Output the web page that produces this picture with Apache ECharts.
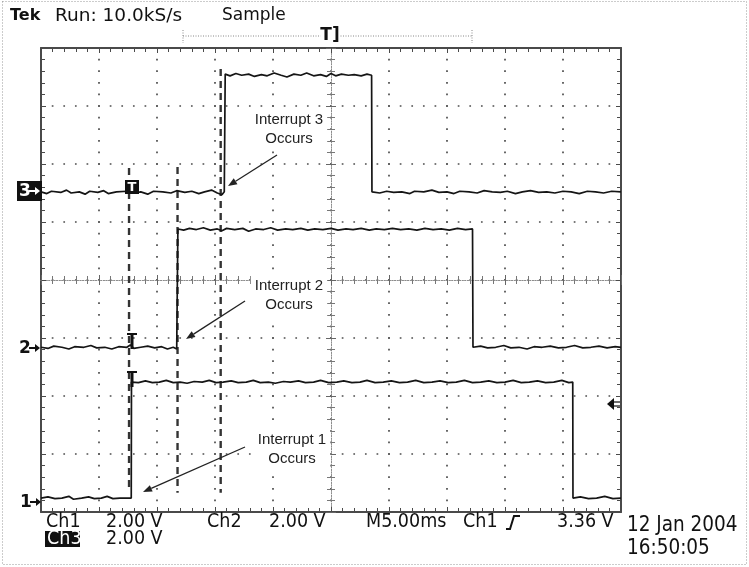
<!DOCTYPE html>
<html>
<head>
<meta charset="utf-8">
<script src="https://cdn.jsdelivr.net/npm/echarts@6/dist/echarts.min.js"></script>
<style>
html, body { margin: 0; padding: 0; background: #fff; }
#scope { width: 749px; height: 567px; }
</style>
</head>
<body>
<div id="scope"></div>
<script>
// x = time in ms relative to screen centre (5 ms/div, 10 div)
// y = screen level in divisions (8 div, 0 = centre)
var timeRange = [-25, 25];
var levelRange = [-4, 4];
var msPerDiv = 5;

var ch3Trace = [
  [-25, 1.52], [-24.5, 1.49], [-24.1, 1.53], [-23.3, 1.51], [-22.8, 1.55], [-22.4, 1.50],
  [-21.7, 1.52], [-21.2, 1.48], [-20.8, 1.53], [-20.1, 1.51], [-19.6, 1.54], [-19.2, 1.49],
  [-18.5, 1.52], [-17.6, 1.53], [-16.9, 1.50], [-16.4, 1.52], [-15.8, 1.48], [-15.3, 1.53],
  [-14.5, 1.52], [-13.8, 1.50], [-13.3, 1.54], [-12.6, 1.51], [-12.0, 1.53], [-11.4, 1.49],
  [-10.9, 1.52], [-10.3, 1.55], [-9.8, 1.50], [-9.4, 1.47], [-9.2, 1.52],
  [-9.16, 2.55], [-9.12, 3.55],
  [-8.7, 3.52], [-8.2, 3.56], [-7.7, 3.53], [-7.1, 3.55], [-6.6, 3.51], [-6.0, 3.54],
  [-5.5, 3.52], [-4.9, 3.57], [-4.3, 3.53], [-3.8, 3.50], [-3.2, 3.55], [-2.6, 3.53],
  [-2.1, 3.57], [-1.5, 3.52], [-0.9, 3.54], [-0.4, 3.51], [0.0, 3.56], [0.4, 3.52],
  [0.9, 3.55], [1.5, 3.53], [2.0, 3.54], [2.6, 3.52], [3.1, 3.55], [3.5, 3.53],
  [3.53, 1.52],
  [4.2, 1.50], [4.8, 1.53], [5.4, 1.51], [6.1, 1.52], [6.8, 1.49], [7.2, 1.53],
  [8.0, 1.52], [8.7, 1.55], [9.3, 1.51], [10.0, 1.52], [10.6, 1.49], [11.1, 1.53],
  [11.9, 1.52], [12.6, 1.50], [13.2, 1.54], [13.9, 1.52], [14.6, 1.51], [15.2, 1.53],
  [15.9, 1.49], [16.5, 1.52], [17.2, 1.54], [17.9, 1.51], [18.6, 1.52], [19.3, 1.50],
  [20.0, 1.53], [20.7, 1.52], [21.4, 1.49], [22.1, 1.53], [22.8, 1.52], [23.5, 1.50],
  [24.2, 1.53], [25, 1.52]
];

var ch2Trace = [
  [-25, -1.16], [-24.4, -1.18], [-23.9, -1.14], [-23.2, -1.16], [-22.6, -1.19], [-22.1, -1.15],
  [-21.3, -1.16], [-20.7, -1.13], [-20.2, -1.17], [-19.5, -1.16], [-18.9, -1.19], [-18.3, -1.15],
  [-17.6, -1.16], [-17.3, -1.12], [-17.0, -1.18], [-16.4, -1.16], [-15.8, -1.14], [-15.2, -1.17],
  [-14.6, -1.15], [-14.1, -1.19], [-13.6, -1.16], [-13.3, -1.19], [-13.22, -1.16],
  [-13.2, 0.88],
  [-12.7, 0.86], [-12.2, 0.89], [-11.6, 0.87], [-11.0, 0.90], [-10.4, 0.86], [-9.8, 0.88],
  [-9.4, 0.85], [-9.0, 0.89], [-8.3, 0.87], [-7.6, 0.89], [-7.1, 0.84], [-6.5, 0.88],
  [-5.8, 0.87], [-5.2, 0.90], [-4.6, 0.86], [-3.9, 0.88], [-3.3, 0.87], [-2.6, 0.89],
  [-2.0, 0.86], [-1.4, 0.88], [-0.7, 0.87], [0.0, 0.89], [0.6, 0.86], [1.3, 0.88],
  [1.9, 0.87], [2.6, 0.89], [3.3, 0.86], [3.9, 0.88], [4.6, 0.87], [5.3, 0.89],
  [6.0, 0.87], [6.7, 0.88], [7.4, 0.86], [8.1, 0.89], [8.8, 0.87], [9.5, 0.88],
  [10.2, 0.86], [10.9, 0.89], [11.6, 0.87], [12.2, 0.88],
  [12.24, -1.16],
  [12.9, -1.14], [13.5, -1.17], [14.2, -1.16], [14.9, -1.13], [15.5, -1.17], [16.2, -1.16],
  [16.9, -1.19], [17.5, -1.15], [18.2, -1.16], [18.9, -1.14], [19.6, -1.17], [20.3, -1.16],
  [21.0, -1.13], [21.7, -1.17], [22.4, -1.16], [23.1, -1.14], [23.8, -1.17], [24.5, -1.15],
  [25, -1.16]
];

var ch1Trace = [
  [-25, -3.76], [-24.4, -3.74], [-23.8, -3.77], [-23.2, -3.76], [-22.6, -3.73], [-22.2, -3.78],
  [-21.5, -3.76], [-20.9, -3.74], [-20.4, -3.77], [-19.8, -3.76], [-19.3, -3.73], [-18.8, -3.77],
  [-18.2, -3.76], [-17.6, -3.76], [-17.22, -3.76],
  [-17.2, -1.76],
  [-16.6, -1.77], [-16.0, -1.74], [-15.4, -1.77], [-14.8, -1.76], [-14.2, -1.73], [-13.6, -1.77],
  [-13.0, -1.76], [-12.4, -1.78], [-11.8, -1.75], [-11.1, -1.76], [-10.5, -1.73], [-9.9, -1.77],
  [-9.3, -1.76], [-8.6, -1.74], [-8.0, -1.77], [-7.3, -1.76], [-6.7, -1.73], [-6.1, -1.77],
  [-5.4, -1.76], [-4.8, -1.78], [-4.1, -1.75], [-3.5, -1.76], [-2.8, -1.74], [-2.2, -1.77],
  [-1.5, -1.76], [-0.9, -1.73], [-0.2, -1.77], [0.5, -1.76], [1.1, -1.74], [1.8, -1.77],
  [2.5, -1.76], [3.1, -1.73], [3.8, -1.77], [4.5, -1.76], [5.2, -1.74], [5.9, -1.77],
  [6.6, -1.76], [7.3, -1.73], [8.0, -1.77], [8.7, -1.76], [9.4, -1.74], [10.1, -1.77],
  [10.8, -1.76], [11.5, -1.73], [12.2, -1.77], [12.9, -1.76], [13.6, -1.74], [14.3, -1.77],
  [15.0, -1.76], [15.7, -1.73], [16.4, -1.77], [17.1, -1.76], [17.8, -1.74], [18.5, -1.77],
  [19.2, -1.76], [19.9, -1.73], [20.5, -1.77], [20.84, -1.76],
  [20.86, -3.76],
  [21.5, -3.74], [22.2, -3.77], [22.9, -3.76], [23.6, -3.73], [24.3, -3.77], [25, -3.76]
];

// dashed cursor lines
var cursorTimes = [-17.41, -13.23, -9.51];
var cursorTop = [1.93, 1.95, 3.64];
var cursorBottom = [-3.62, -3.67, -3.67];

var chartDom = document.getElementById('scope');
var myChart = echarts.init(chartDom, null, { renderer: 'canvas' });

var frameColor = '#4a4a4a';
var dotLine = { color: '#4d4d4d', width: 1.7, type: [1.7, 9.9], dashOffset: 0.85 };
var readFont = "'DejaVu Sans Condensed', 'Liberation Sans Narrow', 'DejaVu Sans'";

function frameAxis(pos) {
  return {
    type: 'value', min: timeRange[0], max: timeRange[1], interval: msPerDiv,
    position: pos,
    axisLine: { onZero: false, lineStyle: { color: frameColor, width: 2 } },
    axisTick: { inside: true, length: 5, lineStyle: { color: frameColor } },
    minorTick: { show: true, splitNumber: 5, length: 4, lineStyle: { color: frameColor } },
    axisLabel: { show: false },
    splitLine: { show: pos === 'bottom', lineStyle: dotLine }
  };
}
// centre graticule lines: frame axes pushed inward by offset
function centreAxis(range, pos, offset, inside) {
  return {
    type: 'value', min: range[0], max: range[1], interval: range === timeRange ? msPerDiv : 1,
    position: pos, offset: offset,
    axisLine: { onZero: false, lineStyle: { color: '#8c8c8c', width: 1, type: [1, 1.6] } },
    axisTick: { inside: inside, length: 5, lineStyle: { color: '#666' } },
    minorTick: { show: true, splitNumber: 5, length: 4, lineStyle: { color: '#777' } },
    axisLabel: { show: false },
    splitLine: { show: false }
  };
}
function frameYAxis(pos) {
  var a = frameAxis('bottom');
  a.min = levelRange[0]; a.max = levelRange[1]; a.interval = 1;
  a.position = pos;
  a.splitLine = { show: pos === 'left', lineStyle: dotLine };
  return a;
}

var xAxes = [frameAxis('bottom'), frameAxis('top'),
  centreAxis(timeRange, 'bottom', -232, true), centreAxis(timeRange, 'bottom', -232, false)];
var yAxes = [frameYAxis('left'), frameYAxis('right'),
  centreAxis(levelRange, 'left', -290, true), centreAxis(levelRange, 'left', -290, false)];

var series = [];
cursorTimes.forEach(function (t, i) {
  series.push({
    type: 'line', symbol: 'none', silent: true, z: 3,
    data: [[t, cursorTop[i]], [t, cursorBottom[i]]],
    lineStyle: { color: '#333', width: 2.4, type: [7, 5] }
  });
});
[ch3Trace, ch2Trace, ch1Trace].forEach(function (tr) {
  series.push({
    type: 'line', symbol: 'none', silent: true, z: 4,
    data: tr,
    lineStyle: { color: '#151515', width: 1.7 }
  });
});

function arrow(x1, y1, x2, y2) {
  var dx = x2 - x1, dy = y2 - y1;
  var len = Math.sqrt(dx * dx + dy * dy);
  var ux = dx / len, uy = dy / len;
  var hl = 9, hw = 3.5;
  var bx = x2 - ux * hl, by = y2 - uy * hl;
  return [
    { type: 'line', z: 50, shape: { x1: x1, y1: y1, x2: bx, y2: by }, style: { stroke: '#222', lineWidth: 1.3 } },
    { type: 'polygon', z: 50, shape: { points: [[x2, y2], [bx - uy * hw, by + ux * hw], [bx + uy * hw, by - ux * hw]] }, style: { fill: '#222' } }
  ];
}
function txt(x, y, s, font, opts) {
  var st = { text: s, x: x, y: y, font: font, fill: '#111', textAlign: 'left', textVerticalAlign: 'middle' };
  for (var k in opts || {}) st[k] = opts[k];
  return { type: 'text', z: 60, silent: true, style: st };
}
function note(x, y, s) {
  return txt(x, y, s, "15px 'Liberation Sans', Arial", {
    textAlign: 'center', lineHeight: 19, backgroundColor: '#fff', padding: [2, 4], fill: '#222'
  });
}
function groundMark(x, y, label, inverted) {
  var c = inverted ? '#fff' : '#111';
  var els = [];
  if (inverted) els.push({ type: 'rect', z: 55, shape: { x: x - 1, y: y - 10, width: 25, height: 20 }, style: { fill: '#111' } });
  els.push(txt(x + 1, y + 1, label, "bold 17px 'DejaVu Sans'", { fill: c }));
  els.push({ type: 'line', z: 60, shape: { x1: x + 11, y1: y, x2: x + 18, y2: y }, style: { stroke: c, lineWidth: 2 } });
  els.push({ type: 'polygon', z: 60, shape: { points: [[x + 22, y], [x + 17, y - 4], [x + 17, y + 4]] }, style: { fill: c } });
  return els;
}
function tMark(x, y) {
  return [
    { type: 'line', z: 55, shape: { x1: x - 5, y1: y, x2: x + 5, y2: y }, style: { stroke: '#111', lineWidth: 2 } },
    { type: 'line', z: 55, shape: { x1: x, y1: y, x2: x, y2: y + 15 }, style: { stroke: '#111', lineWidth: 3 } }
  ];
}

var graphics = [
  { type: 'rect', z: 1, silent: true, shape: { x: 2.5, y: 1.5, width: 744, height: 563 }, style: { fill: 'none', stroke: '#999', lineWidth: 1, lineDash: [1, 2] } },
  txt(10, 16, 'Tek', "bold 16px 'DejaVu Sans'"),
  txt(55, 16, 'Run: 10.0kS/s', "18.5px 'DejaVu Sans'"),
  txt(222, 16, 'Sample', "17px 'DejaVu Sans'"),
  // record window bar
  { type: 'line', z: 10, shape: { x1: 183, y1: 36, x2: 472, y2: 36 }, style: { stroke: '#888', lineWidth: 1, lineDash: [1, 1.5] } },
  { type: 'line', z: 10, shape: { x1: 183, y1: 30, x2: 183, y2: 43 }, style: { stroke: '#888', lineWidth: 1, lineDash: [1, 1.5] } },
  { type: 'line', z: 10, shape: { x1: 472, y1: 30, x2: 472, y2: 43 }, style: { stroke: '#888', lineWidth: 1, lineDash: [1, 1.5] } },
  txt(330, 36, 'T]', "bold 17px 'DejaVu Sans'", { textAlign: 'center', backgroundColor: '#fff' }),
  // trigger level marker
  { type: 'polygon', z: 55, shape: { points: [[607, 404], [614, 398], [614, 410]] }, style: { fill: '#111' } },
  { type: 'line', z: 55, shape: { x1: 613, y1: 402, x2: 620, y2: 402 }, style: { stroke: '#111', lineWidth: 1.2 } },
  { type: 'line', z: 55, shape: { x1: 613, y1: 406, x2: 620, y2: 406 }, style: { stroke: '#111', lineWidth: 1.2 } },
  // trigger point on ch3 (boxed)
  { type: 'rect', z: 55, shape: { x: 125, y: 180, width: 14, height: 14 }, style: { fill: '#111' } },
  txt(132, 187.5, 'T', "bold 13px 'DejaVu Sans'", { textAlign: 'center', fill: '#fff' }),
  note(289, 129.5, 'Interrupt 3\nOccurs'),
  note(289, 295, 'Interrupt 2\nOccurs'),
  note(292, 449, 'Interrupt 1\nOccurs'),
  // readouts
  txt(46, 522, 'Ch1', '19.5px ' + readFont),
  txt(106, 522, '2.00 V', '19.5px ' + readFont),
  txt(207, 522, 'Ch2', '19.5px ' + readFont),
  txt(269, 522, '2.00 V', '19.5px ' + readFont),
  txt(366, 522, 'M5.00ms', '19.5px ' + readFont),
  txt(463, 522, 'Ch1', '19.5px ' + readFont),
  { type: 'polyline', z: 60, shape: { points: [[506, 529], [510, 529], [514, 516], [520, 516]] }, style: { stroke: '#111', lineWidth: 2, fill: 'none' } },
  txt(557, 522, '3.36 V', '19.5px ' + readFont),
  { type: 'rect', z: 55, shape: { x: 45, y: 531, width: 35, height: 16 }, style: { fill: '#111' } },
  txt(47, 539, 'Ch3', '19.5px ' + readFont, { fill: '#fff' }),
  txt(106, 539, '2.00 V', '19.5px ' + readFont),
  txt(627, 526, '12 Jan 2004', '20.5px ' + readFont),
  txt(627, 549, '16:50:05', '20.5px ' + readFont)
];
graphics = graphics
  .concat(groundMark(18, 191, '3', true))
  .concat(groundMark(18, 348, '2', false))
  .concat(groundMark(19, 502, '1', false))
  .concat(tMark(132, 334))
  .concat(tMark(132, 372))
  .concat(arrow(277, 155, 228, 186))
  .concat(arrow(245, 301, 186, 339))
  .concat(arrow(245, 447, 143, 492));

var option = {
  animation: false,
  backgroundColor: '#fff',
  grid: { left: 41, top: 48, width: 580, height: 464, containLabel: false },
  xAxis: xAxes,
  yAxis: yAxes,
  series: series,
  graphic: graphics
};

option && myChart.setOption(option);
</script>
</body>
</html>
